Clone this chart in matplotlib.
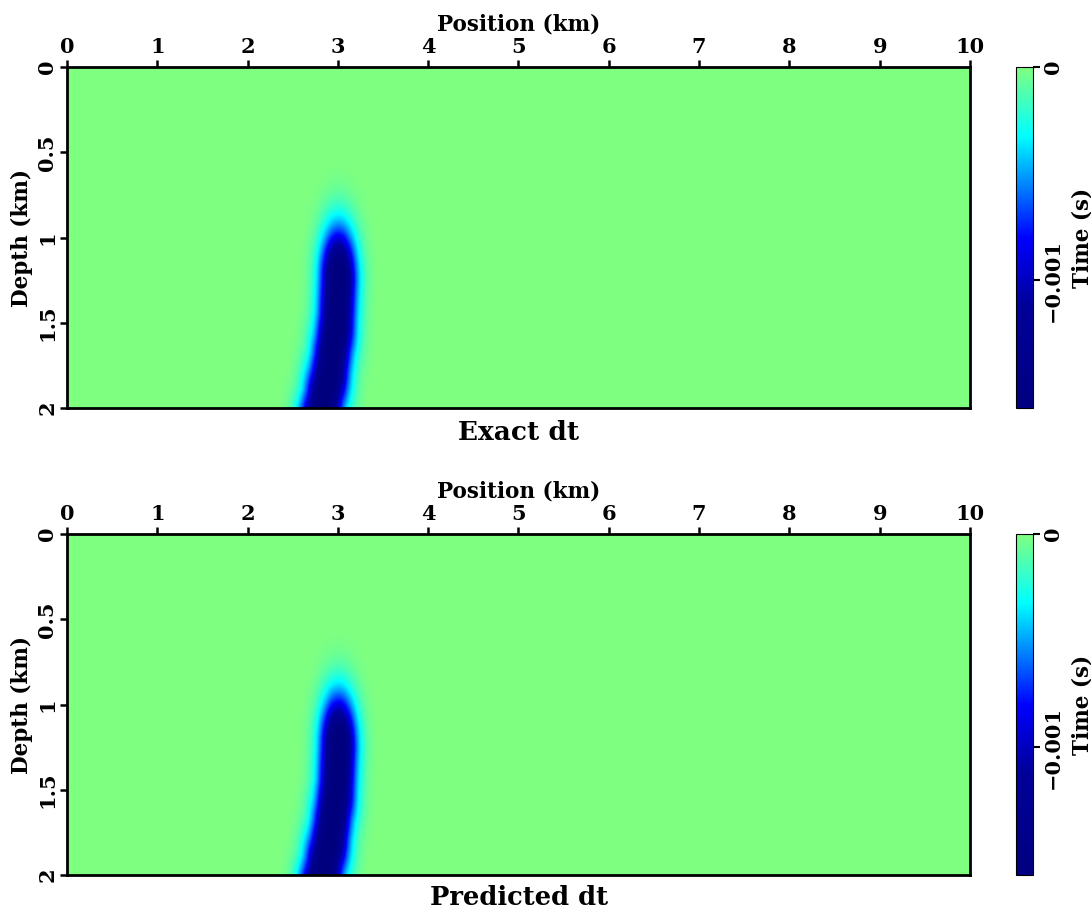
import numpy as np
import matplotlib
matplotlib.use('Agg')
import matplotlib.pyplot as plt
from matplotlib.colors import LinearSegmentedColormap

plt.rcParams['font.family'] = 'DejaVu Serif'
plt.rcParams['font.weight'] = 'bold'

# model extent (km)
x_max = 10.0
z_max = 2.0

# traveltime anomaly: axis of the low-velocity streak, peak value and width
axis_depth = [1.25, 1.50, 1.75, 2.00, 2.10]
axis_pos = [3.00, 2.98, 2.92, 2.83, 2.78]
peak_dt = -0.0018
half_width = 0.136
z_stretch = 0.65   # softer taper above the top of the streak

clip_min = -0.0016
clip_max = 0.0
cbar_ticks = [-0.001, 0.0]
cbar_labels = ['\u22120.001', '0']
x_ticks = list(range(0, 11))
z_ticks = [0, 0.5, 1, 1.5, 2]
z_labels = ['0', '0.5', '1', '1.5', '2']
titles = ['Exact dt', 'Predicted dt']
title_sizes = [19, 18.5]

# lower half of a jet-style palette
cmap = LinearSegmentedColormap.from_list(
    'dtmap',
    [(0.0, (0.0, 0.0, 0.5)),
     (0.30, (0.0, 0.0, 0.6)),
     (0.50, (0.0, 0.0, 1.0)),
     (0.80, (0.0, 1.0, 1.0)),
     (1.0, (0.5, 1.0, 0.5))])

x = np.linspace(0, x_max, 1001)
z = np.linspace(0, z_max, 401)
X, Z = np.meshgrid(x, z)

# distance from every grid point to the streak axis
dist = np.full(X.shape, np.inf)
for i in range(len(axis_depth) - 1):
    x0, z0 = axis_pos[i], axis_depth[i]
    x1, z1 = axis_pos[i + 1], axis_depth[i + 1]
    dx, dz = x1 - x0, z1 - z0
    t = ((X - x0) * dx + (Z - z0) * dz) / (dx * dx + dz * dz)
    t = np.clip(t, 0, 1)
    d = np.hypot(X - (x0 + t * dx), (Z - (z0 + t * dz)) * z_stretch)
    dist = np.minimum(dist, d)
dt = peak_dt * np.exp(-dist ** 2 / (2 * half_width ** 2))

fig = plt.figure(figsize=(10.91, 9.11), dpi=100)

panels = [(0.5521, 0.5255), (0.0395, 0.0143)]
for (bottom, title_y), title, tsize in zip(panels, titles, title_sizes):
    ax = fig.add_axes([0.0614, bottom, 0.8277, 0.3743])
    im = ax.imshow(dt, extent=[0, x_max, z_max, 0], aspect='auto',
                   cmap=cmap, vmin=clip_min, vmax=clip_max,
                   interpolation='bilinear')
    ax.xaxis.tick_top()
    ax.xaxis.set_label_position('top')
    ax.set_xticks(x_ticks)
    ax.set_yticks(z_ticks)
    ax.set_yticklabels(z_labels, rotation=90, va='center')
    ax.set_xlabel('Position (km)', fontsize=15.5, fontweight='bold', labelpad=5)
    ax.set_ylabel('Depth (km)', fontsize=15.5, fontweight='bold', labelpad=3)
    ax.tick_params(labelsize=15, width=1.8, length=5, direction='out', pad=2)
    for s in ax.spines.values():
        s.set_linewidth(2.0)
    fig.text(0.4755, title_y, title, ha='center', va='center',
             fontsize=tsize, fontweight='bold')

    cax = fig.add_axes([0.9313, bottom, 0.0156, 0.3743])
    cb = fig.colorbar(im, cax=cax)
    cb.set_ticks(cbar_ticks)
    cb.set_ticklabels(cbar_labels)
    cb.outline.set_linewidth(0.8)
    cax.tick_params(labelsize=15, width=1.5, length=5, pad=2)
    for lab in cax.get_yticklabels():
        lab.set_rotation(90)
        lab.set_va('center')
    cb.set_label('Time (s)', fontsize=15.5, fontweight='bold', rotation=90,
                 labelpad=6)

fig.savefig('out.png', dpi=100)
